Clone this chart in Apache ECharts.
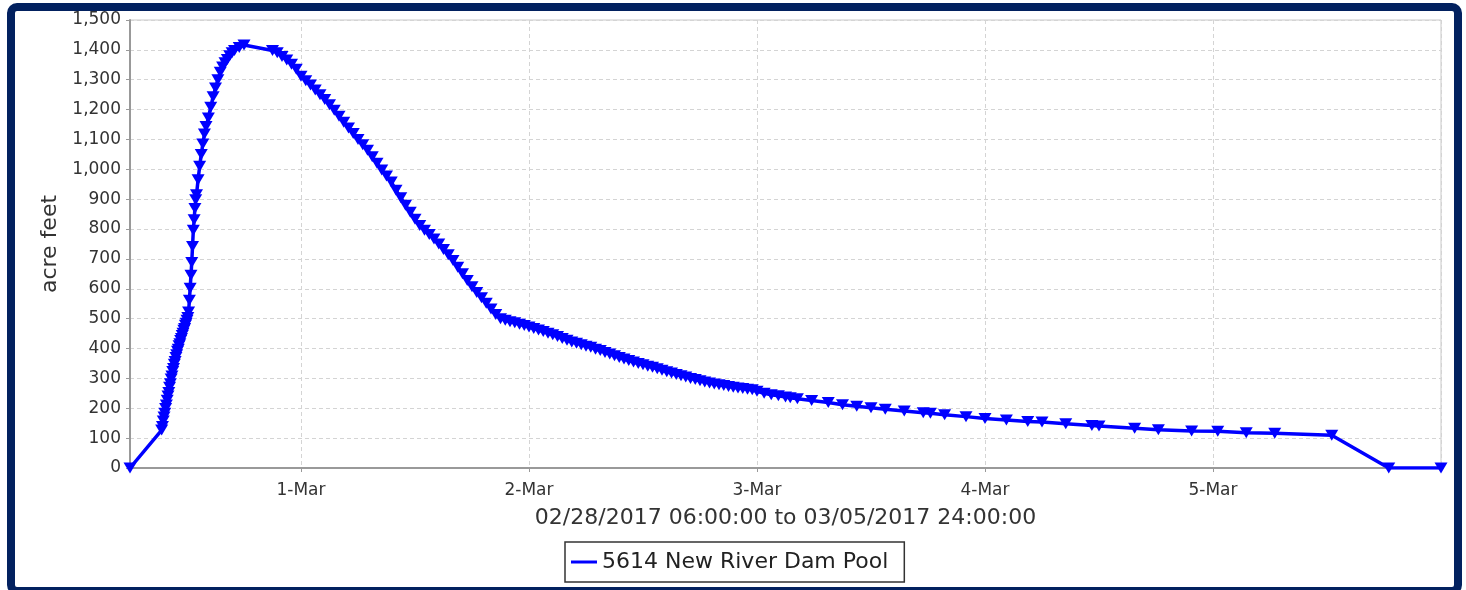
<!DOCTYPE html>
<html>
<head>
<meta charset="utf-8">
<script src="https://cdn.jsdelivr.net/npm/echarts@6/dist/echarts.min.js"></script>
<style>
html,body{margin:0;padding:0;width:1466px;height:590px;overflow:hidden;background:#fff;}
#frame{position:absolute;left:7px;top:3px;width:1455px;height:592px;border:8px solid #02215F;border-radius:10px;box-sizing:border-box;}
#chart{position:absolute;left:0;top:0;width:1466px;height:590px;}
</style>
</head>
<body>
<div id="frame"></div>
<div id="chart"></div>
<script>
const seriesName = '5614 New River Dam Pool';
const xAxisTitle = '02/28/2017 06:00:00 to 03/05/2017 24:00:00';
const yAxisTitle = 'acre feet';
const xStart = '2017-02-28T06:00:00';
const xEnd = '2017-03-06T00:00:00';
const monthNames = ['Jan','Feb','Mar','Apr','May','Jun','Jul','Aug','Sep','Oct','Nov','Dec'];

const times = [
'02-28 06:00',
'02-28 09:20','02-28 09:25','02-28 09:30','02-28 09:35','02-28 09:40','02-28 09:45','02-28 09:50','02-28 09:55',
'02-28 10:00','02-28 10:05','02-28 10:10','02-28 10:15','02-28 10:20','02-28 10:25','02-28 10:30','02-28 10:35',
'02-28 10:40','02-28 10:45','02-28 10:50','02-28 10:55','02-28 11:00','02-28 11:05','02-28 11:10','02-28 11:15',
'02-28 11:20','02-28 11:25','02-28 11:30','02-28 11:35','02-28 11:40','02-28 11:45','02-28 11:50','02-28 11:55',
'02-28 12:00','02-28 12:05','02-28 12:10','02-28 12:15','02-28 12:20','02-28 12:25','02-28 12:30','02-28 12:35',
'02-28 12:40','02-28 12:45','02-28 12:50','02-28 12:55','02-28 13:00','02-28 13:10','02-28 13:20','02-28 13:30',
'02-28 13:40','02-28 13:50',
'02-28 14:00','02-28 14:15','02-28 14:30','02-28 14:45','02-28 15:00','02-28 15:15','02-28 15:30','02-28 15:45',
'02-28 16:00','02-28 16:15','02-28 16:30','02-28 16:45','02-28 17:00','02-28 17:30','02-28 18:00',
'02-28 21:00','02-28 21:30','02-28 22:00','02-28 22:30','02-28 23:00','02-28 23:30',
'03-01 00:00','03-01 00:30','03-01 01:00','03-01 01:30','03-01 02:00','03-01 02:30','03-01 03:00','03-01 03:30',
'03-01 04:00','03-01 04:30','03-01 05:00','03-01 05:30','03-01 06:00','03-01 06:30','03-01 07:00','03-01 07:30',
'03-01 08:00','03-01 08:30','03-01 09:00','03-01 09:30','03-01 10:00','03-01 10:30','03-01 11:00','03-01 11:30',
'03-01 12:00','03-01 12:30','03-01 13:00','03-01 13:30','03-01 14:00','03-01 14:30','03-01 15:00','03-01 15:30',
'03-01 16:00','03-01 16:30','03-01 17:00','03-01 17:30','03-01 18:00','03-01 18:30','03-01 19:00','03-01 19:30',
'03-01 20:00','03-01 20:30','03-01 21:00','03-01 21:30','03-01 22:00','03-01 22:30','03-01 23:00','03-01 23:30',
'03-02 00:00','03-02 00:30','03-02 01:00','03-02 01:30','03-02 02:00','03-02 02:30','03-02 03:00','03-02 03:30',
'03-02 04:00','03-02 04:30','03-02 05:00','03-02 05:30','03-02 06:00','03-02 06:30','03-02 07:00','03-02 07:30',
'03-02 08:00','03-02 08:30','03-02 09:00','03-02 09:30','03-02 10:00','03-02 10:30','03-02 11:00','03-02 11:30',
'03-02 12:00','03-02 12:30','03-02 13:00','03-02 13:30','03-02 14:00','03-02 14:30','03-02 15:00','03-02 15:30',
'03-02 16:00','03-02 16:30','03-02 17:00','03-02 17:30','03-02 18:00','03-02 18:30','03-02 19:00','03-02 19:30',
'03-02 20:00','03-02 20:30','03-02 21:00','03-02 21:30','03-02 22:00','03-02 22:30','03-02 23:00','03-02 23:30',
'03-03 00:00','03-03 00:45','03-03 01:30','03-03 02:15','03-03 03:00','03-03 03:30','03-03 04:15','03-03 05:45',
'03-03 07:30','03-03 09:00','03-03 10:30','03-03 12:00','03-03 13:30','03-03 15:30','03-03 17:30','03-03 18:15',
'03-03 19:45','03-03 22:00','03-04 00:00','03-04 02:15','03-04 04:30','03-04 06:00','03-04 08:30','03-04 11:15',
'03-04 12:00','03-04 15:45','03-04 18:15','03-04 21:45','03-05 00:30','03-05 03:30','03-05 06:30','03-05 12:30',
'03-05 18:30','03-06 00:00'
];

const values = [
0,
127,139,157,171,183,199,211,227,
241,253,270,282,298,308,323,333,
347,357,370,379,391,398,409,416,
427,434,444,451,461,467,478,485,
495,504,522,562,602,645,688,742,
796,831,869,898,915,965,1010,1050,
1085,1118,
1143,1172,1208,1243,1272,1300,1325,1343,
1357,1368,1380,1390,1398,1408,1416,
1398,1390,1378,1366,1352,1335,
1312,1297,1282,1266,1250,1234,1216,1198,
1178,1158,1138,1120,1100,1082,1064,1042,
1020,998,978,958,930,905,880,856,
833,812,796,782,767,750,732,714,
695,672,650,628,607,588,570,552,
532,514,500,495,490,486,481,477,
472,467,462,457,451,446,440,434,
428,422,418,413,408,404,398,393,
387,382,376,370,365,360,355,350,
346,341,337,332,327,322,318,313,
309,305,300,296,292,288,285,281,
279,276,273,270,268,266,264,262,
257,250,245,242,238,235,232,226,
219,212,207,202,197,191,185,183,
178,172,166,161,156,154,148,142,
141,133,128,124,123,118,116,110,
0,0
];

function toTs(s){ return new Date('2017-' + s.replace(' ', 'T') + ':00').getTime(); }
const data = times.map((t, i) => [toTs(t), values[i]]);
const xMin = new Date(xStart).getTime();
const xMax = new Date(xEnd).getTime();

const chart = echarts.init(document.getElementById('chart'), null, {renderer: 'canvas'});
const font = 'DejaVu Sans';
chart.setOption({
  animation: false,
  backgroundColor: 'transparent',
  grid: {left: 130, top: 20, right: 25, bottom: 122, show: true, borderColor: '#c8c8c8', borderWidth: 1, backgroundColor: 'transparent'},
  xAxis: {
    type: 'time',
    min: xMin,
    max: xMax,
    minInterval: 86400000,
    maxInterval: 86400000,
    name: xAxisTitle,
    nameLocation: 'middle',
    nameGap: 39,
    nameTextStyle: {fontFamily: font, fontSize: 22, color: '#333'},
    axisLine: {show: true, lineStyle: {color: '#999', width: 2}},
    axisTick: {show: true, length: 4, lineStyle: {color: '#999'}},
    axisLabel: {
      fontFamily: font, fontSize: 17, color: '#333', margin: 14,
      showMinLabel: false, showMaxLabel: false,
      formatter: function (val) {
        if (val <= xMin || val >= xMax) return '';
        const d = new Date(val);
        if (d.getHours() !== 0 || d.getMinutes() !== 0) return '';
        return d.getDate() + '-' + monthNames[d.getMonth()];
      }
    },
    splitLine: {show: true, lineStyle: {color: '#d4d4d4', type: [4, 3], width: 1}}
  },
  yAxis: {
    type: 'value',
    min: 0, max: 1500, interval: 100,
    name: yAxisTitle,
    nameLocation: 'middle',
    nameGap: 66,
    nameTextStyle: {fontFamily: font, fontSize: 22, color: '#333'},
    axisLine: {show: true, lineStyle: {color: '#999', width: 2}},
    axisTick: {show: true, length: 4, lineStyle: {color: '#999'}},
    axisLabel: {
      fontFamily: font, fontSize: 17, color: '#333', margin: 9,
      formatter: function (v) { return v.toLocaleString('en-US'); }
    },
    splitLine: {show: true, lineStyle: {color: '#d4d4d4', type: [4, 3], width: 1}}
  },
  legend: {
    data: [{name: seriesName, icon: 'rect'}],
    left: 565, top: 542,
    itemWidth: 26, itemHeight: 3, itemGap: 10,
    padding: [9, 16, 9, 6],
    borderColor: '#333', borderWidth: 1.5, borderRadius: 0,
    backgroundColor: '#fff',
    textStyle: {fontFamily: font, fontSize: 22, color: '#222'},
    itemStyle: {color: '#0000FF'}
  },
  series: [{
    name: seriesName,
    type: 'line',
    data: data,
    showAllSymbol: true,
    symbol: 'triangle',
    symbolRotate: 180,
    symbolSize: [13, 11],
    itemStyle: {color: '#0000FF'},
    lineStyle: {color: '#0000FF', width: 3.5},
    clip: true
  }]
});
</script>
</body>
</html>
